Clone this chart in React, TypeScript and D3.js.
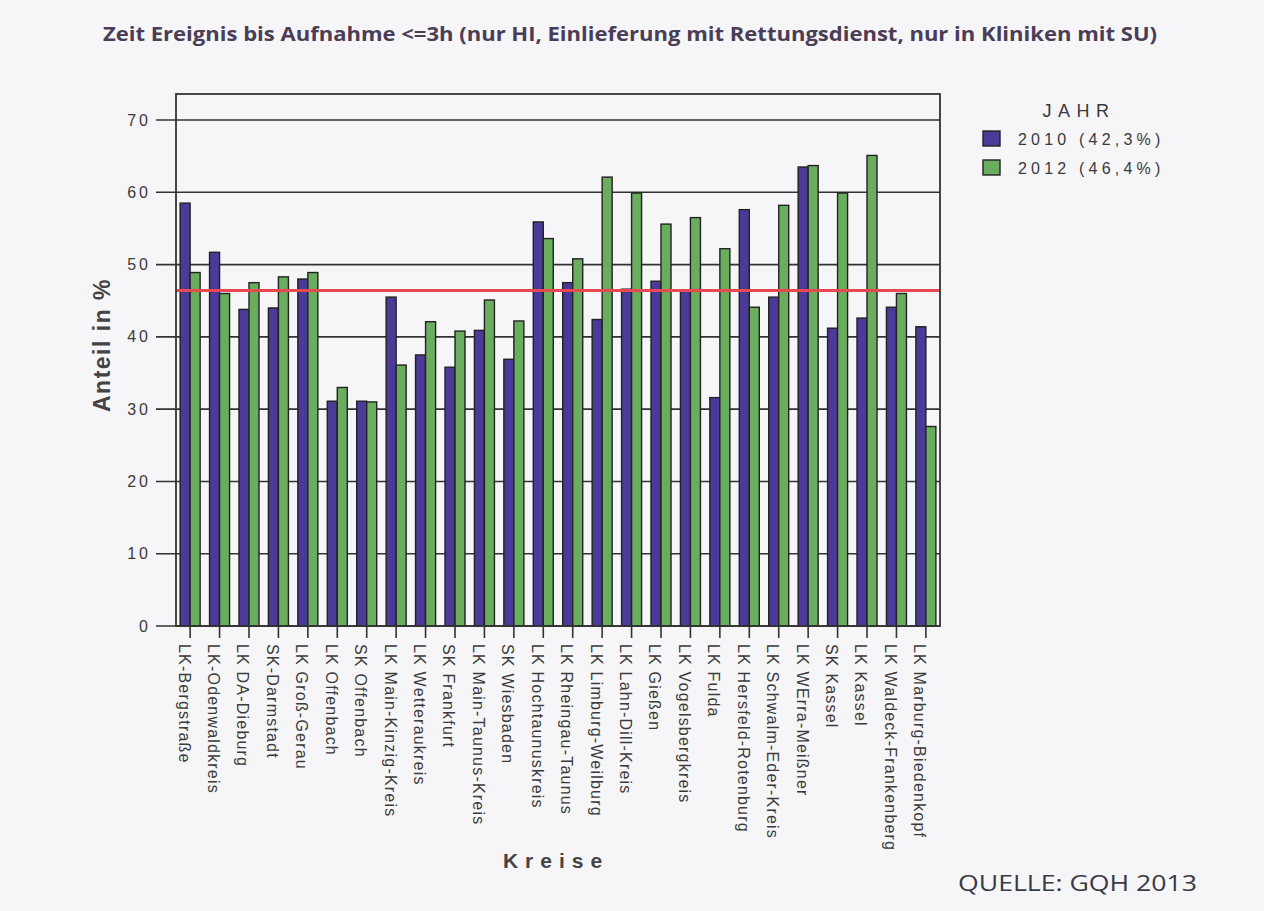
import React, { useEffect, useRef } from "react";
import * as d3 from "d3";

const kreise = [
  "LK-Bergstraße",
  "LK-Odenwaldkreis",
  "LK DA-Dieburg",
  "SK-Darmstadt",
  "LK Groß-Gerau",
  "LK Offenbach",
  "SK Offenbach",
  "LK Main-Kinzig-Kreis",
  "LK Wetteraukreis",
  "SK Frankfurt",
  "LK Main-Taunus-Kreis",
  "SK Wiesbaden",
  "LK Hochtaunuskreis",
  "LK Rheingau-Taunus",
  "LK Limburg-Weilburg",
  "LK Lahn-Dill-Kreis",
  "LK Gießen",
  "LK Vogelsbergkreis",
  "LK Fulda",
  "LK Hersfeld-Rotenburg",
  "LK Schwalm-Eder-Kreis",
  "LK WErra-Meißner",
  "SK Kassel",
  "LK Kassel",
  "LK Waldeck-Frankenberg",
  "LK Marburg-Biedenkopf",
];

const values2010 = [
  58.5, 51.7, 43.8, 44.0, 48.0, 31.1, 31.1, 45.5, 37.5, 35.8, 40.9, 36.9, 55.9,
  47.5, 42.4, 46.6, 47.7, 46.4, 31.6, 57.6, 45.5, 63.5, 41.2, 42.6, 44.1, 41.4,
];

const values2012 = [
  48.9, 46.0, 47.5, 48.3, 48.9, 33.0, 31.0, 36.1, 42.1, 40.8, 45.1, 42.2, 53.6,
  50.8, 62.1, 59.9, 55.6, 56.5, 52.2, 44.1, 58.2, 63.7, 59.9, 65.1, 46.0, 27.6,
];

const seriesKeys = ["2010", "2012"];
const legendLabels = ["2010 (42,3%)", "2012 (46,4%)"];
const yTicks = [0, 10, 20, 30, 40, 50, 60, 70];
const referenceLine = 46.4;

const colors = ["#4b3a98", "#6aad5e"];

export default function App() {
  const ref = useRef<SVGSVGElement>(null);

  useEffect(() => {
    document.body.style.margin = "0";
    document.body.style.background = "#f6f6f9";

    const svg = d3.select(ref.current);
    svg.selectAll("*").remove();

    const width = 1264;
    const height = 911;
    const margin = { top: 94, right: 324, bottom: 285, left: 176 };
    const textColor = "#3a3a3a";
    const font = "'Liberation Sans', Arial, sans-serif";

    svg.attr("width", width).attr("height", height);

    svg
      .append("rect")
      .attr("width", width)
      .attr("height", height)
      .attr("fill", "#f6f6f9");

    const x0 = d3
      .scaleBand()
      .domain(kreise)
      .range([margin.left, width - margin.right])
      .paddingInner(0.32)
      .paddingOuter(0.14);

    const x1 = d3
      .scaleBand()
      .domain(seriesKeys)
      .range([0, x0.bandwidth()]);

    const y = d3
      .scaleLinear()
      .domain([0, 73.6])
      .range([height - margin.bottom, margin.top]);

    // title
    svg
      .append("text")
      .attr("x", 630)
      .attr("y", 41)
      .attr("text-anchor", "middle")
      .attr("font-family", "'Open Sans', sans-serif")
      .attr("font-weight", "bold")
      .attr("font-size", 20)
      .attr("fill", "#4a3d55")
      .attr("textLength", 1054)
      .attr("lengthAdjust", "spacingAndGlyphs")
      .text(
        "Zeit Ereignis bis Aufnahme <=3h (nur HI, Einlieferung mit Rettungsdienst, nur in Kliniken mit SU)"
      );

    // grid lines with outward ticks
    const grid = svg.append("g");
    grid
      .selectAll("line")
      .data(yTicks)
      .join("line")
      .attr("x1", margin.left - 20)
      .attr("x2", width - margin.right)
      .attr("y1", (d) => y(d))
      .attr("y2", (d) => y(d))
      .attr("stroke", "#333")
      .attr("stroke-width", 1.6);

    grid
      .selectAll("text")
      .data(yTicks)
      .join("text")
      .attr("x", margin.left - 25)
      .attr("y", (d) => y(d))
      .attr("dy", "0.35em")
      .attr("text-anchor", "end")
      .attr("font-family", font)
      .attr("font-size", 16)
      .attr("letter-spacing", 3)
      .attr("fill", textColor)
      .text((d) => String(d));

    // bars
    const data = kreise.map((k, i) => ({ k, v: [values2010[i], values2012[i]] }));
    const groups = svg
      .append("g")
      .selectAll("g")
      .data(data)
      .join("g")
      .attr("transform", (d) => `translate(${x0(d.k)},0)`);

    groups
      .selectAll("rect")
      .data((d) => d.v.map((v, j) => ({ key: seriesKeys[j], v, j })))
      .join("rect")
      .attr("x", (d) => x1(d.key)!)
      .attr("y", (d) => y(d.v))
      .attr("width", x1.bandwidth())
      .attr("height", (d) => y(0) - y(d.v))
      .attr("fill", (d) => colors[d.j])
      .attr("stroke", "#222")
      .attr("stroke-width", 1.4);

    // reference line
    svg
      .append("line")
      .attr("x1", margin.left)
      .attr("x2", width - margin.right)
      .attr("y1", y(referenceLine))
      .attr("y2", y(referenceLine))
      .attr("stroke", "#e8484f")
      .attr("stroke-width", 3);

    // frame
    svg
      .append("rect")
      .attr("x", margin.left)
      .attr("y", margin.top)
      .attr("width", width - margin.right - margin.left)
      .attr("height", height - margin.bottom - margin.top)
      .attr("fill", "none")
      .attr("stroke", "#333")
      .attr("stroke-width", 1.8);

    // x ticks and labels
    const xg = svg.append("g");
    xg.selectAll("line")
      .data(kreise)
      .join("line")
      .attr("x1", (d) => x0(d)! + x0.bandwidth() / 2)
      .attr("x2", (d) => x0(d)! + x0.bandwidth() / 2)
      .attr("y1", y(0))
      .attr("y2", y(0) + 12)
      .attr("stroke", "#333")
      .attr("stroke-width", 1.6);

    xg.selectAll("text")
      .data(kreise)
      .join("text")
      .attr(
        "transform",
        (d) => `translate(${x0(d)! + x0.bandwidth() / 2 - 6},${y(0) + 18}) rotate(90)`
      )
      .attr("dy", "0.35em")
      .attr("text-anchor", "start")
      .attr("font-family", font)
      .attr("font-size", 16)
      .attr("letter-spacing", 1.2)
      .attr("fill", textColor)
      .text((d) => d);

    // axis titles
    svg
      .append("text")
      .attr("transform", `translate(110,345) rotate(-90)`)
      .attr("text-anchor", "middle")
      .attr("font-family", font)
      .attr("font-weight", "bold")
      .attr("font-size", 23)
      .attr("letter-spacing", 1.5)
      .attr("fill", "#444")
      .text("Anteil in %");

    svg
      .append("text")
      .attr("x", 556)
      .attr("y", 868)
      .attr("text-anchor", "middle")
      .attr("font-family", font)
      .attr("font-weight", "bold")
      .attr("font-size", 21)
      .attr("letter-spacing", 7)
      .attr("fill", "#444")
      .text("Kreise");

    // legend
    const legend = svg.append("g");
    legend
      .append("text")
      .attr("x", 1079)
      .attr("y", 117)
      .attr("text-anchor", "middle")
      .attr("font-family", font)
      .attr("font-size", 18)
      .attr("letter-spacing", 6.5)
      .attr("fill", textColor)
      .text("JAHR");

    const items = legend
      .selectAll("g")
      .data(legendLabels)
      .join("g")
      .attr("transform", (_, i) => `translate(983,${131 + i * 29})`);

    items
      .append("rect")
      .attr("width", 17)
      .attr("height", 15)
      .attr("fill", (_, i) => colors[i])
      .attr("stroke", "#222")
      .attr("stroke-width", 1.4);

    items
      .append("text")
      .attr("x", 35)
      .attr("y", 8)
      .attr("dy", "0.35em")
      .attr("font-family", font)
      .attr("font-size", 16)
      .attr("letter-spacing", 4.2)
      .attr("fill", textColor)
      .text((d) => d);

    // source
    svg
      .append("text")
      .attr("x", 958)
      .attr("y", 891)
      .attr("font-family", "'Open Sans', sans-serif")
      .attr("font-size", 22)
      .attr("fill", "#3a3a45")
      .attr("textLength", 239)
      .attr("lengthAdjust", "spacingAndGlyphs")
      .text("QUELLE:  GQH 2013");
  }, []);

  return <svg ref={ref} style={{ display: "block" }}></svg>;
}
